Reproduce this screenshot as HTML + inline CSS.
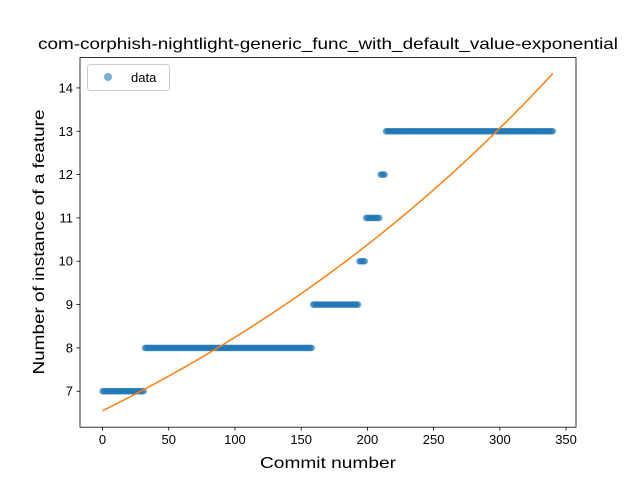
<!DOCTYPE html>
<html><head><meta charset="utf-8"><style>body{margin:0;background:#fff}svg{display:block;font-family:"Liberation Sans","DejaVu Sans",sans-serif}</style></head>
<body>
<svg id="chart" width="640" height="480">
<rect width="640" height="480" fill="#fff"/>
<g id="marks"></g>
<g id="axes"></g>
</svg>
<script>
const stepLevels=[7,8,9,10,11,12,13];
const stepStarts=[0,32,159,194,199,210,214];
const stepEnds=[31,158,193,198,209,213,340];
const fitA=[6.55];
const fitB=[0.002303];
const xTicks=[0,50,100,150,200,250,300,350];
const yTicks=[7,8,9,10,11,12,13,14];
const L=80,R=576,T=57.6,B=427.2,xmin=-17,xmax=357.5,ymin=6.17,ymax=14.70;
const X=v=>L+(v-xmin)/(xmax-xmin)*(R-L);
const Y=v=>B-(v-ymin)/(ymax-ymin)*(B-T);
const NS="http://www.w3.org/2000/svg";
function mk(t,a,p){const e=document.createElementNS(NS,t);for(const k in a)e.setAttribute(k,a[k]);p.appendChild(e);return e;}
const marks=document.getElementById('marks'),axes=document.getElementById('axes');
const pts=mk('g',{},marks);


stepLevels.forEach((lv,i)=>{for(let c=stepStarts[i];c<=stepEnds[i];c++){const d=mk('circle',{cx:X(c),cy:Y(lv),r:3.3,fill:'#1f77b4','fill-opacity':0.6},pts);

}});
let p='';for(let c=0;c<=340;c+=2){const v=fitA[0]*Math.exp(fitB[0]*c);p+=(c?'L':'M')+X(c).toFixed(2)+','+Y(v).toFixed(2);}
const fl=mk('path',{d:p,fill:'none',stroke:'#ff7f0e','stroke-width':1.5},marks);


const fr=mk('rect',{x:L,y:T,width:R-L,height:B-T,fill:'none',stroke:'#000','stroke-width':0.8},axes);


xTicks.forEach(v=>{mk('line',{x1:X(v),x2:X(v),y1:B,y2:B+3.5,stroke:'#000','stroke-width':0.8},axes);
const t=mk('text',{x:X(v),y:B+17,'text-anchor':'middle','font-size':13,fill:'#000'},axes);t.textContent=v;

});
yTicks.forEach(v=>{mk('line',{x1:L-3.5,x2:L,y1:Y(v),y2:Y(v),stroke:'#000','stroke-width':0.8},axes);
const t=mk('text',{x:L-7,y:Y(v)+4.5,'text-anchor':'end','font-size':13,fill:'#000'},axes);t.textContent=v;

});
</script>
<svg style="position:absolute;left:0;top:0" width="640" height="480">
<text x="328" y="49" text-anchor="middle" font-size="16" textLength="580" lengthAdjust="spacingAndGlyphs" font-family="Liberation Sans, sans-serif">com-corphish-nightlight-generic_func_with_default_value-exponential</text>
<text x="328" y="468" text-anchor="middle" font-size="16" textLength="136" lengthAdjust="spacingAndGlyphs" font-family="Liberation Sans, sans-serif">Commit number</text>
<text transform="translate(44,242) rotate(-90)" text-anchor="middle" font-size="16" textLength="265" lengthAdjust="spacingAndGlyphs" font-family="Liberation Sans, sans-serif">Number of instance of a feature</text>
<g>
<rect x="87.5" y="64.5" width="82" height="26" rx="3" fill="#fff" fill-opacity="0.8" stroke="#ccc"/>
<circle cx="108" cy="77" r="4" fill="#1f77b4" fill-opacity="0.6"/>
<text x="131" y="82" font-size="13" font-family="Liberation Sans, sans-serif">data</text>
</g>
</svg>
</body></html>
